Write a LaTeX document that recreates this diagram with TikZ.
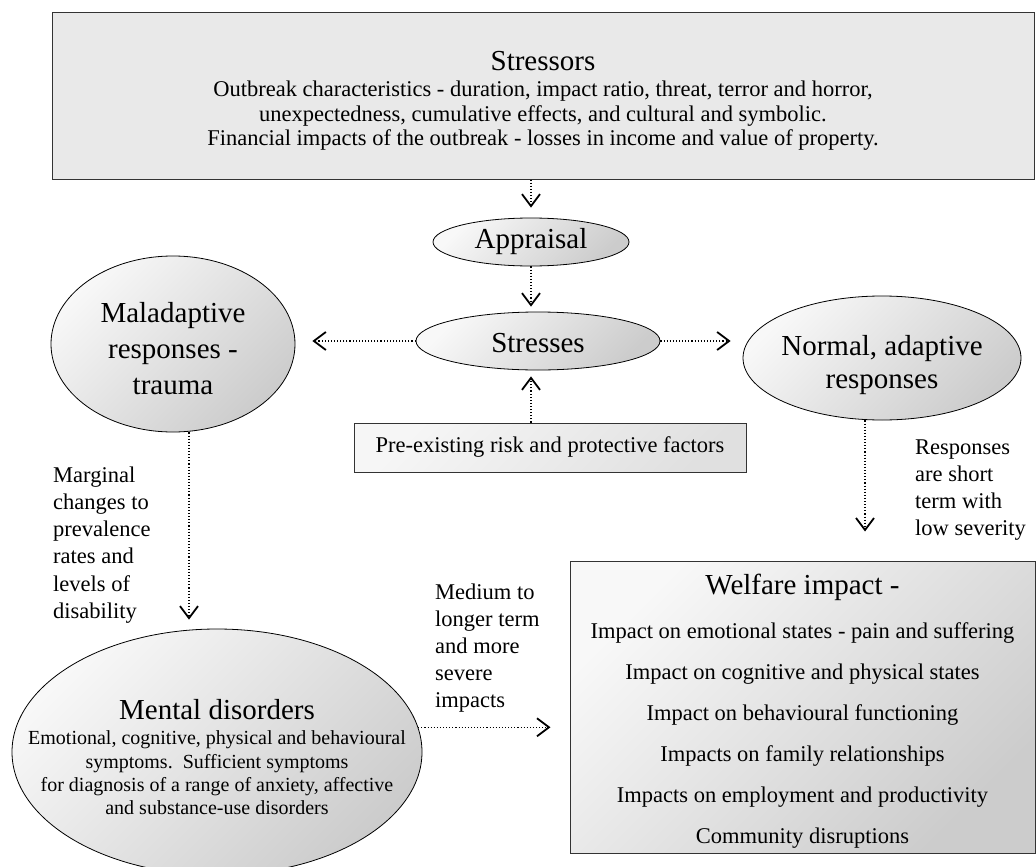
\documentclass[tikz,border=0pt]{standalone}
\usepackage{fontspec}
\setmainfont{Liberation Serif}
\usetikzlibrary{arrows.meta,shapes.geometric}
\newcommand\FntTitle{\fontsize{29}{35}\selectfont}
\newcommand\FntBody{\fontsize{22.5}{24.5}\selectfont}
\newcommand\FntLab{\fontsize{22.5}{27.2}\selectfont}
\newcommand\FntWel{\fontsize{22.5}{41}\selectfont}
\newcommand\FntMen{\fontsize{20}{23.3}\selectfont}
\definecolor{boxgray}{RGB}{233,233,233}
\definecolor{shadelight}{RGB}{248,248,248}
\definecolor{shadedark}{RGB}{204,204,204}
\begin{document}
\begin{tikzpicture}[x=1pt,y=-1pt,
  arr/.style={draw=black, line width=1.1pt, dash pattern=on 1.1pt off 2pt,
    -{Straight Barb[length=12pt,width=18pt,line width=1.8pt]}},
  shadefill/.style={top color=shadelight, bottom color=shadedark, shading angle=45},
  ell/.style={ellipse, draw=black, line width=0.8pt, inner sep=0pt, shadefill},
  boxstyle/.style={rectangle, draw=black!80, line width=1pt, inner sep=0pt, align=center},
  txt/.style={inner sep=0pt, align=center},
  lab/.style={anchor=west, align=left, inner sep=0pt, font=\FntLab}
]
\useasboundingbox (0,0) rectangle (1036,867);

% boxes and ellipses
\node[boxstyle, fill=boxgray, minimum width=982pt, minimum height=166pt] (top) at (543,96) {};
\node[ell, minimum width=196pt, minimum height=48pt] (app) at (531,242) {};
\node[ell, minimum width=244pt, minimum height=58pt] (str) at (538,341) {};
\node[ell, minimum width=244pt, minimum height=176pt] (mal) at (173,344) {};
\node[ell, minimum width=278pt, minimum height=124pt] (nor) at (882,358) {};
\node[boxstyle, top color=gray!7, bottom color=gray!24, shading angle=45,
  minimum width=392pt, minimum height=49pt, font=\FntBody] (pre) at (550,447.5)
 {Pre-existing risk and protective factors};
\node[ell, minimum width=410pt, minimum height=246pt] (men) at (217,752) {};
\node[boxstyle, shadefill, minimum width=465pt, minimum height=292pt] (wel) at (802.5,707) {};

% texts
\node[txt, font=\FntBody] (toptxt) at (543,101)
 {{\FntTitle Stressors}\\[2pt]
  Outbreak characteristics - duration, impact ratio, threat, terror and horror,\\
  unexpectedness, cumulative effects, and cultural and symbolic.\\
  Financial impacts of the outbreak - losses in income and value of property.};
\node[txt, font=\FntTitle] (apptxt) at (app.center) {Appraisal};
\node[txt, font=\FntTitle] (strtxt) at (538,343) {Stresses};
\node[txt, font=\fontsize{29}{36}\selectfont] (maltxt) at (173,349) {Maladaptive\\responses -\\trauma};
\node[txt, font=\fontsize{29}{33}\selectfont] (nortxt) at (882,365) {Normal, adaptive\\responses};
\node[txt, font=\FntMen] (mentxt) at (217,757)
 {{\FntTitle Mental disorders}\\[2.5pt]
  Emotional, cognitive, physical and behavioural\\
  symptoms.\ \ Sufficient symptoms\\
  for diagnosis of a range of anxiety, affective\\
  and substance-use disorders};
\node[txt, font=\FntWel] (weltxt) at (802.5,711)
 {{\FntTitle Welfare impact -}\\[3.5pt]
  Impact on emotional states - pain and suffering\\
  Impact on cognitive and physical states\\
  Impact on behavioural functioning\\
  Impacts on family relationships\\
  Impacts on employment and productivity\\
  Community disruptions};

\node[lab] (lmarg) at (53,545) {Marginal\\changes to\\prevalence\\rates and\\levels of\\disability};
\node[lab] (lmed) at (435,648) {Medium to\\longer term\\and more\\severe\\impacts};
\node[lab] (lresp) at (915,490) {Responses\\are short\\term with\\low severity};

% connectors
\draw[arr, shorten >=10pt] (top.south -| app.north) -- (app.north);
\draw[arr, shorten >=5pt] (app.south) -- (app.south |- str.north);
\draw[arr, shorten >=17pt] (str.west) -- (str.west -| mal.east);
\draw[arr, shorten >=12pt] (str.east) -- (str.east -| nor.west);
\draw[arr, shorten >=6pt] (pre.north -| app.south) -- (app.south |- str.south);
\draw[arr, shorten >=9pt] ([xshift=16pt]mal.south) -- ([xshift=16pt]mal.south |- men.north);
\draw[arr, shorten >=19pt] (men.7) -- (men.7 -| wel.west);
\draw[arr, shorten >=29pt] ([xshift=-17pt]nor.south) -- ([xshift=-17pt]nor.south |- wel.north);
\end{tikzpicture}
\end{document}
